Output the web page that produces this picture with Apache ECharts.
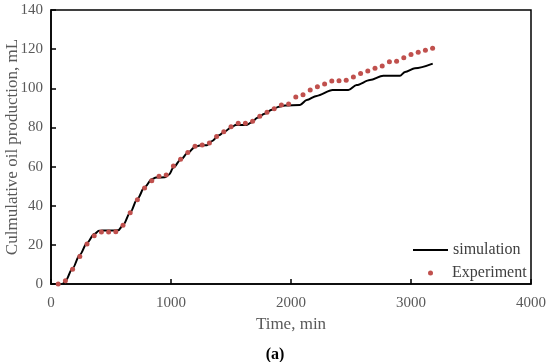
<!DOCTYPE html>
<html>
<head>
<meta charset="utf-8">
<script src="https://cdn.jsdelivr.net/npm/echarts@6/dist/echarts.min.js"></script>
<style>html,body{margin:0;padding:0;background:#fff}#c{width:550px;height:362px}</style>
</head>
<body>
<div id="c"></div>
<script>
const expTime = [60,120,180,240,300,360,420,480,540,600,660,720,780,840,900,960,1020,1080,1140,1200,1260,1320,1380,1440,1500,1560,1620,1680,1740,1800,1860,1920,1980,2040,2100,2160,2220,2280,2340,2400,2460,2520,2580,2640,2700,2760,2820,2880,2940,3000,3060,3120,3180];
const expValue = [0,1.7,7.5,14,20.4,24.7,26.6,26.6,26.7,30,36.4,43,49,52.8,55,55.7,60.3,63.8,67.2,70.4,71,72.1,75.4,77.8,80.4,82.1,82.1,83.2,85.7,87.7,89.6,91.4,92.0,95.6,96.7,99.1,100.8,102.2,103.7,103.9,104.1,105.8,107.5,108.8,110.2,111.4,113.6,113.8,115.6,117.2,118.4,119.4,120.4];
const simTime = [100,120,180,240,300,360,400,430,480,560,600,660,720,780,840,875,950,985,1020,1080,1140,1200,1240,1300,1340,1400,1450,1500,1540,1630,1670,1720,1780,1840,1900,1950,2075,2131,2214,2347,2478,2547,2658,2769,2825,2908,2950,3033,3181];
const simValue = [0,1.5,8,15,21,25.5,27.2,27.3,27.3,27.4,30,36.5,43.5,49.5,53.5,54.4,54.5,56,59.5,63.5,67,70,70.8,70.9,73,76,78,80,81.2,81.3,82.5,85,87,89,90.6,91.2,91.5,94,96.1,99.1,99.1,101.7,104.2,106.4,106.4,106.4,108.3,110.2,112.6];
const xTicks = [0,1000,2000,3000,4000];
const yTicks = [0,20,40,60,80,100,120,140];

const font = 'Liberation Serif';
const chart = echarts.init(document.getElementById('c'));
chart.setOption({
  animation: false,
  backgroundColor: '#fff',
  grid: {left: 51, right: 19, top: 10, bottom: 78, containLabel: false, outerBoundsMode: 'none', show: true, borderColor: '#000', borderWidth: 1.5, backgroundColor: 'transparent'},
  xAxis: {
    type: 'value', min: xTicks[0], max: xTicks[xTicks.length-1], interval: 1000,
    name: 'Time, min', nameLocation: 'middle', nameGap: 32, nameMoveOverlap: false,
    nameTextStyle: {fontFamily: font, fontSize: 17, color: '#595959'},
    axisLine: {show: true, lineStyle: {color: '#000', width: 1.5}},
    axisTick: {show: true, inside: true, length: 5, lineStyle: {color: '#000', width: 1.5}},
    axisLabel: {fontFamily: font, fontSize: 15, color: '#595959', margin: 12, formatter: v => String(v)},
    splitLine: {show: false}
  },
  yAxis: {
    type: 'value', min: yTicks[0], max: yTicks[yTicks.length-1], interval: 20,
    name: 'Culmulative oil production, mL', nameLocation: 'middle', nameGap: 30, nameRotate: 90, nameMoveOverlap: false,
    nameTextStyle: {fontFamily: font, fontSize: 17, color: '#595959'},
    axisLine: {show: true, lineStyle: {color: '#000', width: 1.5}},
    axisTick: {show: true, inside: true, length: 5, lineStyle: {color: '#000', width: 1.5}},
    axisLabel: {fontFamily: font, fontSize: 15, color: '#595959', margin: 8, formatter: v => String(v)},
    splitLine: {show: false}
  },
  legend: [
    {data: ['simulation'], left: 413, top: 242, padding: 0, orient: 'vertical', icon: 'rect', itemWidth: 35, itemHeight: 2, itemGap: 4,
     textStyle: {fontFamily: font, fontSize: 16, color: '#404040'}},
    {data: ['Experiment'], left: 428, top: 265, padding: 0, orient: 'vertical', icon: 'circle', itemWidth: 5, itemHeight: 5, itemGap: 4,
     textStyle: {fontFamily: font, fontSize: 16, color: '#404040', padding: [0, 0, 0, 14]}}
  ],
  series: [
    {name: 'simulation', type: 'line', data: simTime.map((t,i)=>[t, simValue[i]]), showSymbol: false, symbol: 'none',
     smooth: 0.3, smoothMonotone: 'x', lineStyle: {color: '#000', width: 2}, itemStyle: {color: '#000'}, z: 2},
    {name: 'Experiment', type: 'scatter', data: expTime.map((t,i)=>[t, expValue[i]]), symbol: 'circle', symbolSize: 5,
     itemStyle: {color: '#C0504D', opacity: 1}, z: 3}
  ],
  graphic: [
    {type: 'text', left: 'center', top: 347, style: {text: '(a)', fontFamily: font, fontSize: 16, fontWeight: 'bold', fill: '#000'}}
  ]
});
</script>
</body>
</html>
